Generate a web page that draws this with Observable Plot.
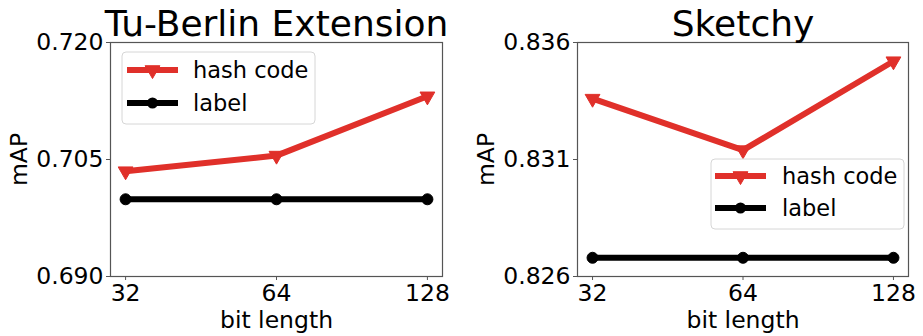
<!DOCTYPE html>
<html>
<head>
<meta charset="utf-8">
<script src="https://cdn.jsdelivr.net/npm/d3@7"></script>
<script src="https://cdn.jsdelivr.net/npm/@observablehq/plot@0.6"></script>
<style>
  html, body { margin: 0; padding: 0; background: #fff; }
  #wrap { position: relative; width: 923px; height: 336px; font-family: "DejaVu Sans", sans-serif; }
  .panel { position: absolute; top: 0; }
  .legend { position: absolute; top: 0; left: 0; pointer-events: none; }
</style>
</head>
<body>
<div id="wrap"></div>
<script>
// bit lengths on the x axis
const bits = [32, 64, 128];
// series names
const seriesNames = ["hash code", "label"];
// Tu-Berlin Extension mAP
const tuHash = [0.7035, 0.7055, 0.7131];
const tuLabel = [0.6999, 0.6999, 0.6999];
// Sketchy mAP
const skHash = [0.8336, 0.8314, 0.8352];
const skLabel = [0.8268, 0.8268, 0.8268];
// y tick values
const tuTicks = [0.690, 0.705, 0.720];
const skTicks = [0.826, 0.831, 0.836];

const RED = "#e0302a";
const FONT = "DejaVu Sans";

function rows(values, series) {
  return bits.map((b, i) => ({bits: b, map: values[i], series}));
}

function panel({title, hash, label, yDomain, yTicks, width, marginLeft, marginRight}) {
  const hashRows = rows(hash, seriesNames[0]);
  const labelRows = rows(label, seriesNames[1]);
  return Plot.plot({
    width,
    height: 336,
    marginTop: 42,
    marginBottom: 60,
    marginLeft,
    marginRight,
    style: {fontFamily: FONT, fontSize: "23.5px", color: "#000", background: "#fff"},
    x: {type: "log", base: 2, domain: [Math.pow(2, 4.9), Math.pow(2, 7.1)]},
    y: {domain: yDomain},
    marks: [
      Plot.line(labelRows, {x: "bits", y: "map", stroke: "#000", strokeWidth: 6}),
      Plot.dot(labelRows, {x: "bits", y: "map", r: 5.5, fill: "#000", stroke: "#000", strokeWidth: 1}),
      Plot.line(hashRows, {x: "bits", y: "map", stroke: RED, strokeWidth: 6}),
      Plot.dot(hashRows, {x: "bits", y: "map", symbol: "triangle", rotate: 180, r: 5.5, fill: RED, stroke: RED, strokeWidth: 1}),
      Plot.frame({stroke: "#555", strokeWidth: 1.2}),
      Plot.axisX({ticks: bits, tickFormat: d => String(d), tickSize: 4, tickPadding: 4, stroke: "#555",
        label: "bit length", labelAnchor: "center", labelArrow: "none", labelOffset: 51}),
      Plot.axisY({ticks: yTicks, tickFormat: d3.format(".3f"), tickSize: 4, tickPadding: 3, stroke: "#555",
        label: "mAP", labelAnchor: "center", labelArrow: "none", labelOffset: 100}),
      Plot.text([title], {frameAnchor: "top", text: d => d, dy: -7, lineAnchor: "bottom", fontSize: 36, fill: "#000"})
    ]
  });
}

function legend(svg, box, sample, textX, rowsY) {
  const g = svg.append("g");
  g.append("rect")
    .attr("x", box.x).attr("y", box.y).attr("width", box.w).attr("height", box.h)
    .attr("rx", 4).attr("fill", "rgba(255,255,255,0.8)").attr("stroke", "#d6d6d6").attr("stroke-width", 1);
  const colors = [RED, "#000"];
  seriesNames.forEach((name, i) => {
    const y = rowsY[i];
    const mid = (sample[0] + sample[1]) / 2;
    g.append("line").attr("x1", sample[0]).attr("x2", sample[1]).attr("y1", y).attr("y2", y)
      .attr("stroke", colors[i]).attr("stroke-width", 6);
    if (i === 0) {
      g.append("path").attr("d", d3.symbol(d3.symbolTriangle, Math.PI * 5.5 * 5.5)())
        .attr("transform", `translate(${mid},${y}) rotate(180)`).attr("fill", RED).attr("stroke", RED);
    } else {
      g.append("circle").attr("cx", mid).attr("cy", y).attr("r", 5.5).attr("fill", "#000");
    }
    g.append("text").attr("x", textX).attr("y", y).attr("dy", "0.35em")
      .attr("font-family", FONT).attr("font-size", 22.5).attr("fill", "#000").text(name);
  });
}

const wrap = document.getElementById("wrap");

const left = panel({title: "Tu-Berlin Extension", hash: tuHash, label: tuLabel, yDomain: [0.690, 0.720],
  yTicks: tuTicks, width: 460, marginLeft: 110, marginRight: 18});
left.classList.add("panel");
left.style.left = "0px";
wrap.appendChild(left);

const right = panel({title: "Sketchy", hash: skHash, label: skLabel, yDomain: [0.826, 0.836],
  yTicks: skTicks, width: 463, marginLeft: 117, marginRight: 15});
right.classList.add("panel");
right.style.left = "460px";
wrap.appendChild(right);

const overlay = d3.select(wrap).append("svg").attr("class", "legend").attr("width", 923).attr("height", 336);
legend(overlay, {x: 122, y: 52, w: 193, h: 72}, [127, 178], 193, [70, 103]);
legend(overlay, {x: 711, y: 159, w: 193, h: 70}, [715, 766], 782, [176, 208]);
</script>
</body>
</html>
